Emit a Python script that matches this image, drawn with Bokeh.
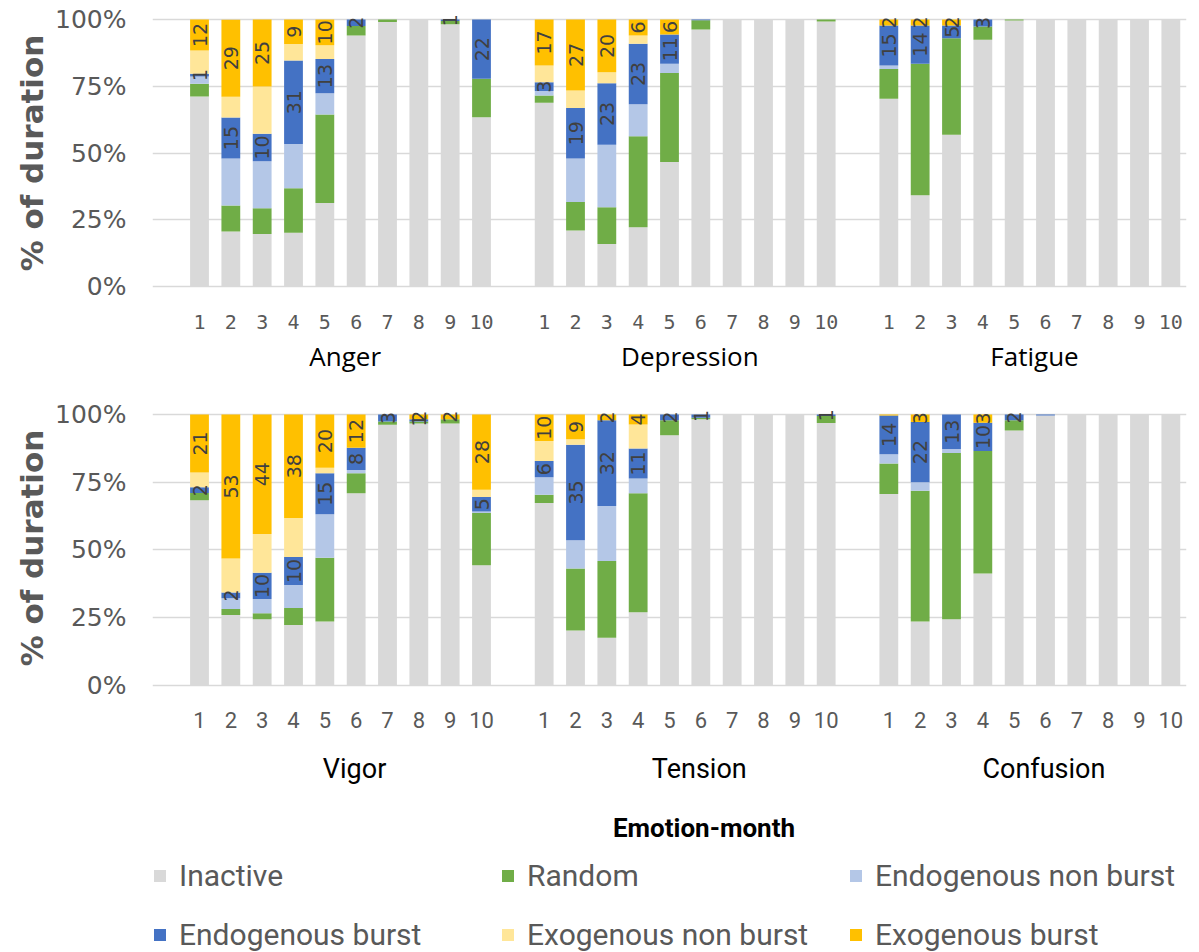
import math
from bokeh.plotting import figure
from bokeh.models import (ColumnDataSource, Range1d, FixedTicker, LinearAxis,
                          PrintfTickFormatter, Legend, LegendItem)
from bokeh.layouts import column
from bokeh.embed import file_html
from bokeh.resources import INLINE
from bokeh.core.properties import value

# ---------------- data ----------------
emotions_top = ["Anger", "Depression", "Fatigue"]
emotions_bottom = ["Vigor", "Tension", "Confusion"]
months = ["1", "2", "3", "4", "5", "6", "7", "8", "9", "10"]
series = ["Inactive", "Random", "Endogenous non burst",
          "Endogenous burst", "Exogenous non burst", "Exogenous burst"]
colors = ["#D9D9D9", "#70AD47", "#B4C7E7", "#4472C4", "#FFE699", "#FFC000"]
labelled = ["Endogenous burst", "Exogenous burst"]
x_title = "Emotion-month"
y_title = "% of duration"

# values in % of duration; order: Anger, Depression, Fatigue, Vigor, Tension, Confusion (months 1..10 each)
inactive = [71.2, 20.6, 19.7, 20.1, 31.3, 94.0, 99.1, 100, 98.2, 63.4,
            68.8, 21.0, 15.9, 22.2, 46.6, 96.3, 100, 100, 100, 99.3,
            70.3, 34.2, 56.8, 92.4, 99.6, 100, 100, 100, 100, 100,
            68.3, 26.0, 24.5, 22.3, 23.6, 70.9, 96.2, 96.6, 96.6, 44.4,
            67.3, 20.3, 17.6, 27.0, 92.3, 98.2, 100, 100, 100, 96.8,
            70.6, 23.6, 24.5, 41.3, 94.1, 99.6, 100, 100, 100, 100]
random_ = [4.7, 9.7, 9.6, 16.7, 33.1, 3.6, 0.9, 0, 1.2, 14.4,
           2.7, 10.6, 13.8, 34.1, 33.4, 3.4, 0, 0, 0, 0.7,
           11.2, 49.2, 36.2, 5.0, 0.4, 0, 0, 0, 0, 0,
           2.7, 2.2, 2.2, 6.3, 23.5, 7.4, 1.2, 0.8, 1.6, 19.2,
           3.1, 22.9, 28.3, 43.9, 5.5, 0.6, 0, 0, 0, 2.6,
           11.3, 48.2, 61.3, 45.2, 3.7, 0, 0, 0, 0, 0]
endo_non_burst = [2.8, 17.6, 17.6, 16.6, 8.0, 0, 0, 0, 0, 0,
                  1.7, 16.3, 23.4, 12.0, 3.4, 0, 0, 0, 0, 0,
                  1.3, 0, 0, 0, 0, 0, 0, 0, 0, 0,
                  0, 4.0, 5.2, 8.5, 16.1, 1.2, 0, 0, 0, 0.6,
                  6.4, 10.4, 20.3, 5.5, 0, 0, 0, 0, 0, 0,
                  3.4, 3.2, 1.4, 0, 0, 0, 0, 0, 0, 0]
endo_burst = [1.0, 15.4, 10.3, 31.2, 12.8, 2.4, 0, 0, 0.6, 22.2,
              3.3, 19.0, 23.0, 22.6, 11.0, 0.3, 0, 0, 0, 0,
              15.0, 14.4, 4.8, 2.6, 0, 0, 0, 0, 0, 0,
              2.1, 2.1, 9.7, 10.3, 15.1, 8.2, 2.6, 0.8, 0, 5.3,
              6.0, 35.2, 31.6, 11.0, 2.2, 1.2, 0, 0, 0, 0.6,
              14.3, 22.2, 12.8, 10.4, 2.2, 0.4, 0, 0, 0, 0]
exo_non_burst = [8.7, 7.8, 17.7, 6.2, 5.2, 0, 0, 0, 0, 0,
                 6.3, 6.5, 4.1, 3.1, 0, 0, 0, 0, 0, 0,
                 0, 0, 0, 0, 0, 0, 0, 0, 0, 0,
                 5.5, 12.6, 14.3, 14.4, 2.0, 0, 0, 0, 0, 2.7,
                 7.4, 2.0, 0, 8.9, 0, 0, 0, 0, 0, 0,
                 0, 0, 0, 0, 0, 0, 0, 0, 0, 0]
exo_burst = [11.6, 28.8, 25.1, 9.2, 9.6, 0, 0, 0, 0, 0,
             17.2, 26.6, 19.8, 6.0, 5.6, 0, 0, 0, 0, 0,
             2.2, 2.2, 2.2, 0, 0, 0, 0, 0, 0, 0,
             21.4, 53.1, 44.1, 38.2, 19.7, 12.3, 0, 1.8, 1.8, 27.8,
             9.8, 9.2, 2.2, 3.7, 0, 0, 0, 0, 0, 0,
             0.4, 2.8, 0, 3.1, 0, 0, 0, 0, 0, 0]

all_series = [inactive, random_, endo_non_burst, endo_burst, exo_non_burst, exo_burst]

GRAY = "#595959"
LEFT = 152


def plain_axis(ticks, overrides, standoff, font, size, color, style="normal"):
    ax = LinearAxis(ticker=FixedTicker(ticks=ticks), major_label_overrides=overrides)
    ax.axis_line_color = None
    ax.major_tick_line_color = None
    ax.minor_tick_line_color = None
    ax.major_label_standoff = standoff
    ax.major_label_text_font = font
    ax.major_label_text_font_size = size
    ax.major_label_text_font_style = style
    ax.major_label_text_color = color
    return ax


def make_panel(emotions, first, width, height, right, bottom, ystart, yend,
               num_font, num_size, num_standoff, grp_font, grp_size, grp_standoff,
               grp_shift, title_standoff=None):
    n = len(months)
    xs, overrides = [], {}
    for g in range(len(emotions)):
        for m in range(n):
            x = g * (n + 1) + m + 1
            xs.append(x)
            overrides[x] = months[m]
    sl = slice(first * n, (first + len(emotions)) * n)
    data = {"x": xs}
    for name, arr in zip(series, all_series):
        data[name] = arr[sl]
    src = ColumnDataSource(data)

    p = figure(width=width, height=height,
               x_range=Range1d(-0.5, len(emotions) * (n + 1) - 0.5),
               y_range=Range1d(ystart, yend),
               output_backend="svg", toolbar_location=None,
               x_axis_location=None,
               min_border_left=LEFT, min_border_right=right,
               min_border_top=0, min_border_bottom=bottom,
               outline_line_color=None)
    p.xgrid.visible = False
    p.ygrid.ticker = FixedTicker(ticks=[0, 25, 50, 75, 100])
    p.ygrid.grid_line_color = "#D9D9D9"
    p.ygrid.grid_line_width = 1.5

    yax = p.yaxis[0]
    yax.ticker = FixedTicker(ticks=[0, 25, 50, 75, 100])
    yax.formatter = PrintfTickFormatter(format="%d%%")
    yax.axis_line_color = None
    yax.major_tick_line_color = None
    yax.minor_tick_line_color = None
    yax.major_label_standoff = 20
    yax.major_label_text_font = "DejaVu Sans"
    yax.major_label_text_font_size = "25px"
    yax.major_label_text_color = GRAY
    yax.axis_label = y_title
    yax.axis_label_text_font = "DejaVu Sans"
    yax.axis_label_text_font_style = "bold"
    yax.axis_label_text_font_size = "31px"
    yax.axis_label_text_color = GRAY
    yax.axis_label_standoff = 2

    renderers = p.vbar_stack(series, x="x", width=0.6, source=src,
                             color=colors, line_color=None)

    # data labels on the burst segments
    lx, ly, lt = [], [], []
    for i, x in enumerate(xs):
        base = 0.0
        for name in series:
            v = data[name][i]
            if name in labelled and round(v) >= 1:
                lx.append(x)
                ly.append(base + v / 2.0)
                lt.append(str(int(round(v))))
            base += v
    p.text(x=lx, y=ly, text=lt, angle=math.pi / 2, text_align="center",
           text_baseline="middle", text_font=value("DejaVu Sans"),
           text_font_size="19px", text_color="#404040")

    p.add_layout(plain_axis(xs, overrides, num_standoff, num_font, num_size, GRAY), "below")

    gticks = [g * (n + 1) + grp_shift for g in range(len(emotions))]
    p.add_layout(plain_axis(gticks, {t: e for t, e in zip(gticks, emotions)},
                            grp_standoff, grp_font, grp_size, "#000000"), "below")
    if title_standoff is not None:
        tx = 17.1
        p.add_layout(plain_axis([tx], {tx: x_title}, title_standoff, "Roboto", "26px",
                                "#000000", style="bold"), "below")
    return p, renderers


p1, _ = make_panel(emotions_top, 0, 1191, 395, 5, 90, -7.12, 107.12,
                   "DejaVu Sans Mono", "20px", 3, "Open Sans", "26px", 0, 5.65)
p2, rends = make_panel(emotions_bottom, 3, 1191, 450, 0, 143, -5.5, 106.96,
                       "Roboto", "22px", 5, "Roboto", "27px", 16, 5.95,
                       title_standoff=19)

# legend strip
p3 = figure(width=1191, height=107, x_range=Range1d(0, 1), y_range=Range1d(0, 1),
            output_backend="svg", toolbar_location=None,
            x_axis_location=None, y_axis_location=None,
            min_border=0, outline_line_color=None)
p3.grid.visible = False
legend_src = ColumnDataSource({"l": [-10], "r": [-9], "b": [-10], "t": [-9]})
leg_rends = [p3.quad(left="l", right="r", bottom="b", top="t", source=legend_src,
                     fill_color=c, line_color=None)
             for c in colors]
leg = Legend(items=[LegendItem(label=s, renderers=[r]) for s, r in zip(series, leg_rends)],
             orientation="horizontal", ncols=3, location=(0, 0),
             label_text_font="Roboto", label_text_font_size="30px",
             label_text_color=GRAY, glyph_width=15, glyph_height=15,
             label_standoff=12, label_width=297, spacing=24, padding=0, margin=0,
             border_line_color=None, background_fill_alpha=0)
p3.add_layout(leg, "center")

p = column(p1, p2, p3, spacing=0)

open("out.html", "w").write(file_html(p, INLINE))
